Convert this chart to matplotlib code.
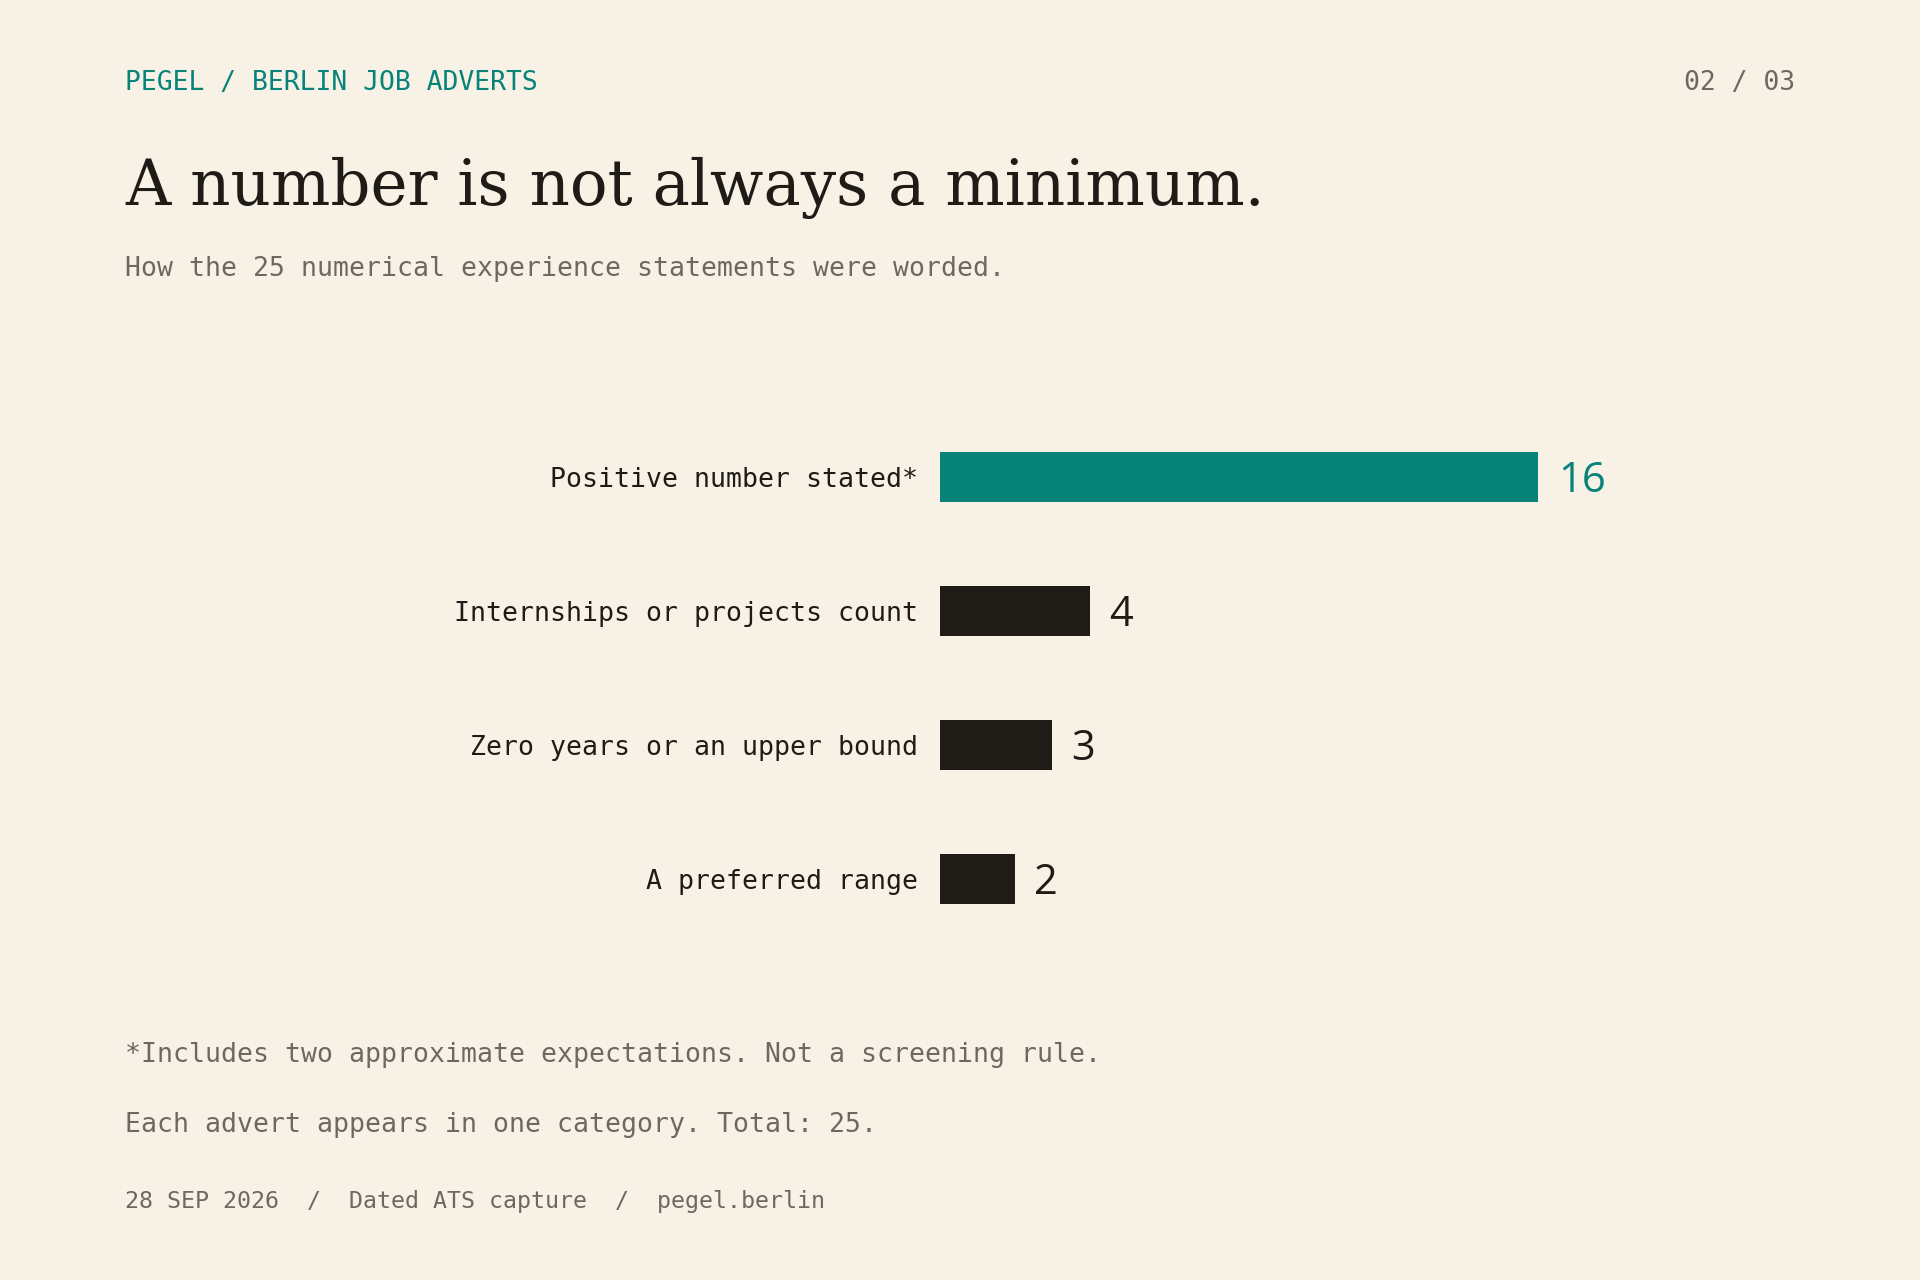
import matplotlib
matplotlib.use("Agg")
import matplotlib.pyplot as plt

# DATA
categories = ["Positive number stated*", "Internships or projects count",
              "Zero years or an upper bound", "A preferred range"]
counts = [16, 4, 3, 2]
highlight = [True, False, False, False]

# STYLE
BG = "#f7f1e6"
TEAL = "#08837a"
DARK = "#1f1c18"
GREY = "#6e685f"
MONO = "DejaVu Sans Mono"

W, H = 1920, 1280
fig = plt.figure(figsize=(W / 100, H / 100), dpi=100, facecolor=BG)

def px(x, y):
    # pixel position (from top-left) to figure fraction
    return x / W, 1 - y / H

# header
fig.text(*px(125, 82.5), "PEGEL / BERLIN JOB ADVERTS", family=MONO, size=19,
         color=TEAL, va="center", ha="left")
fig.text(*px(1795, 82.5), "02 / 03", family=MONO, size=19,
         color=GREY, va="center", ha="right")

title = fig.text(*px(125, 205), "A number is not always a minimum.",
                 family="DejaVu Serif", size=52, color=DARK,
                 va="baseline", ha="left")
fig.text(*px(125, 268.5), "How the 25 numerical experience statements were worded.",
         family=MONO, size=19.1, color=GREY, va="center", ha="left")

# bars
ax = fig.add_axes([940 / W, 1 - 946 / H, 748 / W, 536 / H])
ax.set_facecolor(BG)
colors = [TEAL if h else DARK for h in highlight]
ypos = list(range(len(categories)))
ax.barh(ypos, counts, height=0.375, color=colors)
ax.set_xlim(0, 20)
ax.set_ylim(3.5, -0.5)
ax.set_yticks(ypos)
ax.set_yticklabels(categories, family=MONO, fontsize=19.1, color=DARK)
ax.tick_params(axis="y", length=0, pad=16)
ax.set_xticks([])
for s in ax.spines.values():
    s.set_visible(False)

for y, v, c in zip(ypos, counts, colors):
    ax.annotate(str(v), (v, y), xytext=(14, -3), textcoords="offset points",
                va="center", ha="left", family="Open Sans", fontsize=30, color=c)

# notes
fig.text(*px(125, 1055.5), "*Includes two approximate expectations. Not a screening rule.",
         family=MONO, size=19.1, color=GREY, va="center", ha="left")
fig.text(*px(125, 1125.5), "Each advert appears in one category. Total: 25.",
         family=MONO, size=19.1, color=GREY, va="center", ha="left")
fig.text(*px(125, 1201.5), "28 SEP 2026  /  Dated ATS capture  /  pegel.berlin",
         family=MONO, size=16.75, color=GREY, va="center", ha="left")

# fit title width to the reference
fig.canvas.draw()
bb = title.get_window_extent()
title.set_fontsize(52 * 1141 / bb.width)

fig.savefig("out.png", dpi=100, facecolor=BG)
